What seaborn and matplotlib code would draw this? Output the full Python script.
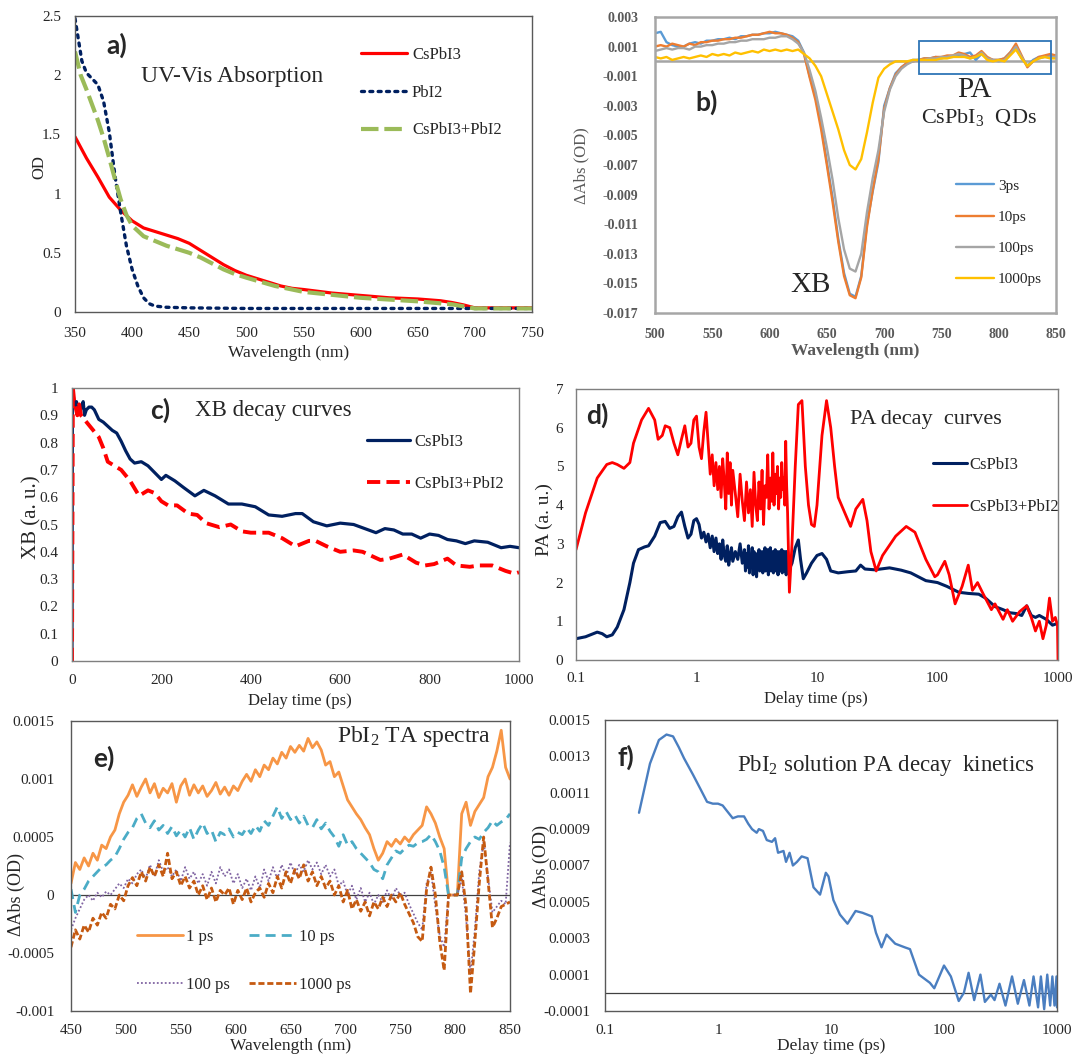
import numpy as np
import matplotlib
matplotlib.use("Agg")
import matplotlib.pyplot as plt
import seaborn as sns
from matplotlib.patches import Rectangle

# ---------------- a) UV-Vis absorption ----------------
abs_wl_cspbi3 = [350, 360, 370, 380, 390, 400, 410, 420, 430, 440, 450, 460, 470, 480, 490,
                 500, 510, 520, 530, 540, 550, 575, 600, 625, 650, 670, 680, 690, 700, 750]
abs_od_cspbi3 = [1.48, 1.30, 1.14, 0.97, 0.86, 0.77, 0.71, 0.68, 0.65, 0.62, 0.58, 0.52, 0.46, 0.40, 0.35,
                 0.31, 0.28, 0.25, 0.22, 0.20, 0.19, 0.16, 0.14, 0.12, 0.11, 0.095, 0.08, 0.06, 0.035, 0.035]
abs_wl_pbi2 = [350, 353, 356, 360, 365, 370, 375, 380, 385, 390, 395, 400, 405, 410, 415, 420,
               430, 450, 500, 550, 600, 650, 700, 750]
abs_od_pbi2 = [2.48, 2.30, 2.12, 2.02, 1.97, 1.92, 1.78, 1.52, 1.15, 0.84, 0.56, 0.36, 0.22, 0.12, 0.07, 0.05,
               0.04, 0.035, 0.03, 0.03, 0.03, 0.03, 0.03, 0.03]
abs_wl_mix = [350, 355, 360, 365, 370, 375, 380, 385, 390, 395, 400, 410, 420, 430, 440, 450, 460,
              470, 480, 490, 500, 525, 550, 600, 650, 680, 700, 750]
abs_od_mix = [2.20, 2.00, 1.88, 1.75, 1.62, 1.47, 1.30, 1.12, 0.95, 0.82, 0.73, 0.64, 0.60, 0.56, 0.53, 0.50, 0.46,
              0.41, 0.36, 0.32, 0.29, 0.22, 0.17, 0.12, 0.09, 0.065, 0.03, 0.03]
abs_labels = ["CsPbI3", "PbI2", "CsPbI3+PbI2"]

# ---------------- b) CsPbI3 QD TA spectra (units of 1e-3 OD) ----------------
ta_wl = list(range(500, 851, 5))
ta_3ps = [1.9, 2.0, 1.3, 1.1, 1.0, 1.0, 1.2, 1.3, 1.2, 1.4, 1.4, 1.5, 1.5, 1.6, 1.5, 1.7, 1.7, 1.8, 1.8, 1.9,
          1.9, 2.0, 1.9, 1.8, 1.7, 1.4, 0.6, -1.0, -2.2, -4.3, -6.8, -9.2, -12.0, -14.3, -15.7, -15.9,
          -14.5, -11.0, -8.8, -6.8, -3.0, -1.8, -0.8, -0.4, -0.1, 0.1, 0.1, 0.2, 0.2, 0.3, 0.2, 0.3, 0.3,
          0.4, 0.5, 0.6, 0.1, 0.5, 0.2, 0.1, 0.1, 0.2, 0.6, 0.9, 0.2, -0.3, 0.1, 0.3, 0.3, 0.4, 0.4]
ta_10ps = [1.0, 1.1, 1.0, 1.2, 1.1, 1.0, 1.2, 1.1, 1.3, 1.3, 1.4, 1.4, 1.5, 1.5, 1.6, 1.6, 1.7, 1.8, 1.8, 1.9,
           2.0, 1.9, 1.9, 1.8, 1.6, 1.3, 0.5, -1.1, -2.6, -4.6, -7.0, -9.5, -12.2, -14.5, -15.8, -16.0,
           -14.6, -11.2, -8.7, -6.6, -3.2, -1.8, -0.9, -0.4, -0.1, 0.0, 0.1, 0.2, 0.2, 0.3, 0.3, 0.4, 0.4,
           0.6, 0.5, 0.3, 0.4, 0.7, 0.3, 0.1, 0.1, 0.2, 0.6, 1.2, 0.4, -0.4, 0.0, 0.3, 0.4, 0.5, 0.4]
ta_100ps = [0.7, 0.8, 0.9, 0.8, 0.9, 0.9, 0.8, 1.0, 1.0, 1.1, 1.1, 1.2, 1.2, 1.3, 1.3, 1.4, 1.4, 1.5, 1.5, 1.5,
            1.6, 1.6, 1.7, 1.7, 1.5, 1.2, 0.6, -0.6, -2.0, -3.8, -5.8, -8.0, -10.6, -12.7, -14.0, -14.2,
            -13.0, -10.2, -7.9, -6.0, -3.4, -1.9, -1.0, -0.5, -0.2, 0.0, 0.1, 0.1, 0.2, 0.2, 0.3, 0.3, 0.4,
            0.5, 0.4, 0.2, 0.3, 0.6, 0.2, 0.1, 0.0, 0.1, 0.5, 1.0, 0.3, -0.3, 0.0, 0.2, 0.3, 0.3, 0.3]
ta_1000ps = [0.3, 0.2, 0.3, 0.1, 0.2, 0.3, 0.2, 0.3, 0.4, 0.3, 0.5, 0.4, 0.5, 0.4, 0.6, 0.5, 0.6, 0.7, 0.6, 0.8,
             0.7, 0.8, 0.7, 0.8, 0.7, 0.8, 0.5, 0.2, -0.3, -1.0, -2.2, -3.4, -4.6, -6.0, -7.0, -7.3,
             -6.6, -4.8, -2.8, -1.1, -0.5, -0.2, 0.0, 0.0, 0.0, 0.1, 0.1, 0.1, 0.1, 0.1, 0.2, 0.2, 0.3,
             0.3, 0.3, 0.2, 0.3, 0.5, 0.1, 0.0, 0.1, 0.0, 0.4, 0.8, 0.2, -0.3, 0.0, 0.2, 0.3, 0.2, 0.2]
ta_labels = ["3ps", "10ps", "100ps", "1000ps"]

# ---------------- c) XB decay ----------------
xb_t_cs = [0, 1, 3, 6, 10, 14, 18, 22, 25, 28, 32, 38, 44, 50, 60, 70, 80, 90, 100, 110, 120, 130, 140, 155,
           170, 185, 200, 210, 230, 250, 275, 295, 320, 350, 380, 410, 440, 470, 500, 515, 540, 570, 600,
           630, 680, 700, 720, 740, 760, 780, 800, 820, 840, 860, 880, 900, 930, 960, 980, 1000]
xb_cs = [0, 0.99, 0.97, 0.93, 0.95, 0.91, 0.92, 0.93, 0.95, 0.90, 0.92, 0.93, 0.93, 0.92, 0.885, 0.875, 0.86,
         0.845, 0.835, 0.805, 0.77, 0.74, 0.725, 0.73, 0.715, 0.69, 0.665, 0.68, 0.66, 0.635, 0.605, 0.625,
         0.605, 0.575, 0.575, 0.565, 0.535, 0.53, 0.54, 0.54, 0.51, 0.495, 0.505, 0.50, 0.47, 0.485, 0.48,
         0.465, 0.465, 0.45, 0.465, 0.46, 0.445, 0.44, 0.43, 0.44, 0.435, 0.415, 0.42, 0.415]
xb_t_mix = [0, 2, 5, 8, 12, 16, 20, 25, 30, 40, 50, 60, 70, 80, 90, 100, 110, 130, 150, 170, 185, 200, 215,
            235, 260, 280, 300, 330, 355, 380, 400, 440, 470, 500, 530, 545, 570, 600, 630, 650, 690, 710,
            740, 770, 790, 810, 840, 860, 890, 910, 940, 970, 990, 1000]
xb_mix = [0, 1.0, 0.95, 0.93, 0.90, 0.94, 0.90, 0.89, 0.88, 0.86, 0.84, 0.82, 0.78, 0.73, 0.72, 0.71, 0.70,
          0.66, 0.605, 0.625, 0.615, 0.585, 0.57, 0.57, 0.54, 0.535, 0.505, 0.49, 0.50, 0.475, 0.47, 0.47,
          0.45, 0.42, 0.44, 0.44, 0.42, 0.40, 0.405, 0.40, 0.37, 0.375, 0.39, 0.36, 0.35, 0.355, 0.375, 0.35,
          0.345, 0.35, 0.35, 0.33, 0.32, 0.325]
decay_labels = ["CsPbI3", "CsPbI3+PbI2"]

# ---------------- d) PA decay ----------------
pa_t_cs = [0.1, 0.12, 0.15, 0.165, 0.18, 0.2, 0.22, 0.25, 0.28, 0.3, 0.33, 0.37, 0.4, 0.45, 0.5, 0.55, 0.6,
           0.65, 0.7, 0.75, 0.8, 0.85, 0.9, 0.95, 1.0, 1.05, 1.1, 1.15, 1.2, 1.25, 1.3, 1.35, 1.4, 1.45, 1.5,
           1.55, 1.6, 1.65, 1.7, 1.75, 1.8, 1.85, 1.9, 1.95, 2.0, 2.1, 2.2, 2.3, 2.4,
           2.5, 2.55, 2.6, 2.65, 2.7, 2.75, 2.8, 2.85, 2.9, 2.95, 3.0, 3.05, 3.1, 3.15, 3.2, 3.25, 3.3,
           3.35, 3.4, 3.45, 3.5, 3.55, 3.6, 3.65, 3.7, 3.75, 3.8, 3.85, 3.9, 3.95, 4.0, 4.05, 4.1, 4.15,
           4.2, 4.25, 4.3, 4.35, 4.4, 4.45, 4.5, 4.55, 4.6, 4.65, 4.7, 4.75, 4.8, 4.85, 4.9, 4.95, 5.0,
           5.05, 5.1, 5.15, 5.2, 5.25, 5.3, 5.35, 5.4, 5.45, 5.5, 5.55, 5.6, 5.65, 5.7,
           5.9, 6.2, 6.6, 7.0, 7.3, 7.7, 8.2, 9.0, 10, 11, 12, 13, 15, 18, 21, 23, 25, 30, 40, 50, 60, 80,
           100, 120, 150, 180, 220, 250, 300, 350, 400, 450, 500, 550, 600, 650, 700, 800, 900, 1000]
pa_cs = [0.55, 0.6, 0.72, 0.68, 0.6, 0.65, 0.85, 1.3, 2.0, 2.5, 2.85, 2.92, 2.95, 3.2, 3.55, 3.58, 3.4,
         3.45, 3.7, 3.82, 3.45, 3.15, 3.25, 3.6, 3.65, 3.5, 3.15, 3.3, 3.05, 3.25, 2.9, 3.2, 2.8, 3.15, 2.75,
         3.0, 2.6, 3.1, 2.7, 2.55, 2.95, 2.45, 2.7, 2.9, 2.55, 2.8, 2.6, 3.0, 2.5,
         2.85, 2.3, 2.75, 2.4, 2.95, 2.25, 2.7, 2.45, 2.9, 2.2, 2.8, 2.5, 2.75, 2.15, 2.65, 2.45, 2.85,
         2.3, 2.7, 2.5, 2.8, 2.25, 2.75, 2.45, 2.9, 2.3, 2.65, 2.4, 2.85, 2.2, 2.75, 2.5, 2.9, 2.3,
         2.7, 2.45, 2.8, 2.25, 2.75, 2.4, 2.85, 2.3, 2.7, 2.5, 2.8, 2.2, 2.75, 2.45, 2.8, 2.35, 2.7,
         2.3, 2.85, 2.25, 2.75, 2.4, 2.8, 2.3, 2.7, 2.45, 2.8, 2.2, 2.75, 2.3, 2.8,
         2.35, 2.5, 2.9, 3.1, 2.6, 2.1, 2.25, 2.5, 2.7, 2.75, 2.6, 2.3, 2.25, 2.28, 2.3, 2.45, 2.35, 2.33,
         2.38, 2.32, 2.25, 2.05, 2.0, 1.9, 1.75, 1.72, 1.7, 1.6, 1.38, 1.3, 1.22, 1.2, 1.15, 1.4, 1.15, 1.1,
         1.15, 1.05, 0.9, 0.95]
pa_t_mix = [0.1, 0.12, 0.15, 0.18, 0.2, 0.22, 0.25, 0.28, 0.3, 0.35, 0.4, 0.45, 0.48, 0.52, 0.55, 0.6, 0.65,
            0.7, 0.75, 0.8, 0.85, 0.9, 0.95, 1.0, 1.05, 1.1, 1.15, 1.2, 1.25, 1.3, 1.35, 1.4, 1.45, 1.5, 1.55,
            1.6, 1.65, 1.7, 1.75, 1.8, 1.85, 1.9, 1.95, 2.0, 2.1, 2.2, 2.3, 2.4, 2.5, 2.6, 2.7, 2.8, 2.9,
            3.0, 3.1, 3.2, 3.3, 3.4, 3.5, 3.6, 3.7, 3.8, 3.9, 4.0, 4.1, 4.2, 4.3, 4.4, 4.5, 4.6, 4.7, 4.8,
            4.9, 5.0, 5.1, 5.2, 5.3, 5.4, 5.5, 5.6, 5.7, 5.9, 6.2, 6.6, 7.0, 7.5, 8.0, 8.5, 9.0, 9.5, 10, 11,
            12, 13, 14, 15, 17, 19, 21, 24, 26, 28, 31, 35, 45, 55, 65, 80, 95, 100, 115, 125, 140, 160, 180,
            195, 215, 240, 280, 300, 350, 380, 420, 480, 550, 600, 650, 700, 750, 800, 850, 900, 950, 990, 1000]
pa_mix = [2.85, 3.8, 4.7, 5.05, 5.1, 5.05, 4.95, 5.1, 5.6, 6.2, 6.5, 6.2, 5.7, 5.8, 6.05, 6.0, 5.6, 5.3, 5.7,
          6.05, 5.5, 5.6, 6.2, 6.3, 5.5, 5.2, 5.9, 6.4, 5.6, 4.8, 5.3, 4.5, 5.1, 4.4, 5.0, 4.2, 5.2, 4.6, 3.9,
          5.35, 4.3, 5.1, 4.0, 4.9, 4.3, 3.7, 4.8, 4.1, 3.6, 4.6, 3.8, 4.4, 3.45, 4.85, 4.0, 3.6, 4.6, 3.9,
          4.9, 3.5, 4.5, 4.2, 5.3, 3.9, 4.7, 4.1, 5.35, 4.0, 4.8, 4.3, 5.0, 3.9, 4.7, 4.2, 5.1, 4.4, 4.7, 4.0,
          5.65, 4.5, 3.8, 1.75, 3.0, 5.0, 6.6, 6.7, 5.0, 4.0, 3.5, 3.45, 4.0, 5.8, 6.7, 6.0, 5.0, 4.2, 3.8,
          3.45, 3.9, 4.15, 3.6, 2.8, 2.3, 2.7, 3.2, 3.45, 3.3, 2.6, 2.15, 2.2, 2.55, 2.2, 1.45, 1.9, 2.45,
          1.8, 2.0, 1.7, 1.3, 1.45, 1.05, 1.3, 1.0, 1.25, 1.4, 1.1, 0.75, 1.0, 0.55, 0.9, 1.6, 1.0, 1.1, 0.9,
          0.0]

# ---------------- e) PbI2 TA spectra (units of 1e-4 OD) ----------------
pbi2_wl = list(range(450, 851, 4))
pbi2_1ps = [1.0, 2.8, 2.2, 3.2, 2.5, 3.6, 3.0, 4.3, 4.0, 5.0,
            5.6, 7.0, 8.0, 8.6, 9.5, 8.5, 9.3, 10.0, 8.8, 9.6,
            8.4, 9.2, 8.8, 9.6, 8.0, 9.4, 10.0, 8.6, 9.5, 8.8,
            9.4, 8.5, 9.0, 9.7, 8.7, 9.3, 8.6, 9.4, 9.0, 9.8,
            10.4, 9.8, 10.8, 10.2, 11.2, 10.8, 11.8, 11.3, 12.3, 11.8,
            12.8, 12.3, 12.9, 12.4, 13.5, 12.7, 13.2, 12.5, 11.2, 11.5,
            10.2, 10.6, 9.4, 8.2, 7.6, 7.0, 6.5, 5.8, 5.2, 4.0,
            3.0, 3.6, 4.6, 4.2, 4.8, 4.4, 5.0, 4.6, 5.2, 5.6,
            6.0, 7.6, 7.0, 6.2, 5.0, 4.0, 0.0, 0.0, 0.0, 7.0,
            8.0, 6.0, 7.2, 7.8, 8.4, 10.2, 11.0, 12.4, 14.2, 11.0,
            10.0]
pbi2_10ps = [0.5, -1.5, 0.0, 0.5, 1.2, 1.6, 2.0, 2.4, 2.6, 3.0,
             3.3, 4.0, 4.8, 5.4, 5.8, 6.6, 7.0, 6.2, 5.8, 6.4,
             5.6, 6.0, 5.3, 5.9, 5.1, 5.6, 5.0, 5.8, 4.8, 5.6,
             6.2, 5.3, 5.6, 4.6, 5.4, 5.2, 5.7, 5.0, 5.4, 5.2,
             5.8, 5.3, 6.0, 5.5, 6.4, 6.0, 6.8, 7.6, 6.6, 7.2,
             6.5, 6.9, 6.2, 6.8, 6.0, 5.8, 6.5, 5.7, 6.2, 5.5,
             5.0, 4.2, 5.2, 4.3, 4.6, 4.0, 3.6, 3.2, 2.8, 2.2,
             2.0, 1.4, 2.6, 3.2, 3.8, 3.6, 4.0, 4.3, 4.2, 4.5,
             4.6, 4.8, 5.2, 4.6, 3.8, 2.4, 0.0, 0.0, 0.0, 3.2,
             4.0, 4.6, 5.0, 4.8, 5.4, 5.8, 6.4, 6.0, 6.3, 6.5,
             7.0]
pbi2_100ps = [-3.0, -2.0, -1.2, -0.4, 0.0, -0.5, 0.2, -0.2, 0.3, 0.0,
              0.5, 1.0, 0.6, 1.4, 1.0, 1.8, 2.2, 1.4, 2.6, 1.6,
              3.0, 2.0, 2.4, 1.6, 2.2, 1.2, 2.4, 1.4, 2.0, 1.0,
              1.8, 0.8, 2.0, 1.0, 2.4, 1.6, 2.2, 1.0, 1.8, 0.6,
              1.4, 0.4, 1.6, 0.6, 2.2, 1.2, 2.4, 1.4, 2.6, 1.6,
              2.8, 1.8, 2.6, 2.0, 3.0, 2.2, 2.8, 1.8, 2.6, 1.6,
              2.2, 0.8, 1.2, 0.0, 0.8, -0.4, 0.6, -0.6, 0.2, -0.8,
              0.0, -0.6, 0.4, -0.4, 0.6, 0.0, 0.2, -0.8, -1.6, -2.4,
              -3.0, 1.0, 2.0, -1.0, -3.5, -4.5, 0.0, 0.0, 0.0, 1.5,
              -2.0, -6.8, -3.0, 2.0, 4.6, 1.5, -1.5, -1.0, -0.5, -0.8,
              4.5]
pbi2_1000ps = [-4.5, -3.0, -3.8, -2.6, -3.2, -2.0, -2.6, -1.5, -2.0, -0.8,
               -1.2, 0.0, -0.5, 0.8, 1.5, 0.8, 2.0, 1.2, 2.4, 1.6,
               2.6, 1.6, 3.6, 1.4, 2.0, 0.8, 1.6, 0.6, 1.2, 0.0,
               0.8, -0.4, 0.6, -0.6, 0.4, 0.0, 0.6, -0.8, 0.4, -0.4,
               0.6, -0.6, 0.2, 0.6, -0.2, 1.0, 0.2, 1.6, 0.6, 2.0,
               1.0, 2.2, 1.4, 2.6, 1.2, 2.0, 0.8, 1.6, 0.6, 1.2,
               0.0, 0.8, -0.6, 0.4, -1.2, -0.4, -1.4, -0.6, -1.8, -0.6,
               -1.2, -0.2, -1.0, 0.0, -0.6, 0.2, -0.8, -1.6, -2.4, -3.6,
               -4.0, 0.5, 2.4, 0.0, -4.0, -6.5, 0.0, 0.0, 0.0, 2.0,
               -1.0, -8.5, -4.0, 1.0, 5.0, 1.2, -2.8, -2.0, -1.0, -0.8,
               -0.6]
pbi2_labels = ["1 ps", "10 ps", "100 ps", "1000 ps"]

# ---------------- f) PbI2 solution PA kinetics (units of 1e-4 OD) ----------------
kin_t = [0.2, 0.25, 0.3, 0.35, 0.4, 0.45, 0.5, 0.6, 0.7, 0.8, 0.9, 1.0, 1.1, 1.2, 1.35, 1.5, 1.7, 1.85, 2.0,
         2.2, 2.3, 2.5, 2.7, 3.0, 3.2, 3.4, 3.8, 4.0, 4.3, 4.6, 5.0, 5.5, 6.2, 7.0, 8.0, 9.0, 9.5, 10.5, 12,
         14, 16.5, 19, 23, 25, 28, 31, 37, 45, 50, 60, 75, 82, 100, 115, 135, 150, 165, 185, 210, 230, 260,
         280, 310, 350, 400, 450, 510, 570, 620, 680, 720, 770, 820, 870, 910, 950, 990, 1000]
kin_pa = [9.9, 12.6, 13.9, 14.2, 14.1, 13.5, 12.9, 12.0, 11.2, 10.5, 10.4, 10.4, 10.3, 10.0, 9.6, 9.7, 9.7,
          9.3, 9.0, 8.8, 9.0, 8.9, 8.4, 8.3, 8.5, 7.7, 7.8, 7.2, 7.7, 7.0, 7.2, 7.5, 7.4, 5.8, 5.4, 6.6, 6.4,
          5.1, 4.3, 3.8, 4.5, 4.4, 4.2, 3.3, 2.5, 3.2, 2.7, 2.5, 2.4, 1.0, 0.55, 0.25, 1.5, 0.9, -0.45, 0.0,
          1.1, -0.4, 1.0, -0.5, -0.1, -0.4, 0.5, -0.7, 0.9, -0.6, 0.7, -0.7, 0.9, -0.8, 0.9, -0.9, 1.0,
          -0.7, 0.9, -0.7, 0.9, -0.8]

# ---------------- tick values ----------------
ticks_a_x = [350, 400, 450, 500, 550, 600, 650, 700, 750]
ticks_a_y = [0, 0.5, 1, 1.5, 2, 2.5]
ticks_b_x = [500, 550, 600, 650, 700, 750, 800, 850]
ticks_b_y = [0.003, 0.001, -0.001, -0.003, -0.005, -0.007, -0.009, -0.011, -0.013, -0.015, -0.017]
ticks_c_x = [0, 200, 400, 600, 800, 1000]
ticks_c_y = [0, 0.1, 0.2, 0.3, 0.4, 0.5, 0.6, 0.7, 0.8, 0.9, 1]
ticks_log = [0.1, 1, 10, 100, 1000]
ticks_d_y = [0, 1, 2, 3, 4, 5, 6, 7]
ticks_e_x = [450, 500, 550, 600, 650, 700, 750, 800, 850]
ticks_e_y = [-0.001, -0.0005, 0, 0.0005, 0.001, 0.0015]
ticks_f_y = [-0.0001, 0.0001, 0.0003, 0.0005, 0.0007, 0.0009, 0.0011, 0.0013, 0.0015]

# ---------------- style ----------------
sns.set_style("white")
plt.rcParams["font.family"] = ["Liberation Serif", "DejaVu Serif"]
plt.rcParams["mathtext.fontset"] = "custom"
plt.rcParams["mathtext.rm"] = "Liberation Serif"
plt.rcParams["mathtext.it"] = "Liberation Serif:italic"
plt.rcParams["axes.unicode_minus"] = False

LETTER = dict(family=["Lato", "DejaVu Sans"], fontweight="bold", fontsize=19)


def draw(ax, x, y, color, lw, ls="-", label=None, scale=1.0, **kw):
    sns.lineplot(x=np.asarray(x, float), y=np.asarray(y, float) * scale, ax=ax, color=color,
                 linewidth=lw, linestyle=ls, label=label, estimator=None, sort=False,
                 legend=False, **kw)


def fmt_num(v):
    s = f"{v:.4f}".rstrip("0").rstrip(".")
    return "0" if s in ("-0", "") else s


def frame(ax, xt, yt, xlabels, ylabels, color="#7F7F7F", lw=1.0, pad_x=9, pad_y=10, size=11):
    ax.set_xticks(xt)
    ax.set_xticklabels(xlabels)
    ax.set_yticks(yt)
    ax.set_yticklabels(ylabels)
    ax.minorticks_off()
    ax.tick_params(axis="x", length=0, pad=pad_x, labelsize=size)
    ax.tick_params(axis="y", length=0, pad=pad_y, labelsize=size)
    for sp in ax.spines.values():
        sp.set_visible(True)
        sp.set_color(color)
        sp.set_linewidth(lw)
    ax.grid(False)


fig = plt.figure(figsize=(10.72, 10.57), dpi=100)
W, H = 1072.0, 1057.0


def axes_px(x0, y0, x1, y1):
    return fig.add_axes([x0 / W, 1 - y1 / H, (x1 - x0) / W, (y1 - y0) / H])


# ---- a ----
ax = axes_px(75, 16, 532, 312)
draw(ax, abs_wl_cspbi3, abs_od_cspbi3, "#FF0000", 2.3, "-", abs_labels[0])
draw(ax, abs_wl_pbi2, abs_od_pbi2, "#002060", 2.4, (0, (0.9, 1.6)), abs_labels[1],
     dash_capstyle="round")
draw(ax, abs_wl_mix, abs_od_mix, "#9BBB59", 3.0, (0, (4.2, 1.4)), abs_labels[2])
ax.set_xlim(350, 750)
ax.set_ylim(0, 2.5)
frame(ax, ticks_a_x, ticks_a_y, [str(v) for v in ticks_a_x], [fmt_num(v) for v in ticks_a_y],
      color="#595959", pad_x=11, pad_y=10)
ax.set_xlabel("Wavelength (nm)", fontsize=12.5)
ax.xaxis.set_label_coords(0.468, -0.113)
ax.set_ylabel("OD", fontsize=12)
ax.yaxis.set_label_coords(-0.061, 0.49)
ax.legend(loc="upper left", bbox_to_anchor=(0.626, 0.895), frameon=False, fontsize=12,
          handlelength=2.75, handletextpad=0.3, labelspacing=1.3, borderpad=0, borderaxespad=0)
ax.text(0.069, 0.902, "a)", transform=ax.transAxes, va="center", ha="left", **LETTER)
ax.text(0.144, 0.794, "UV-Vis Absorption", transform=ax.transAxes, va="center", ha="left", fontsize=17)

# ---- b ----
ax = axes_px(655, 17, 1056, 313)
ax.axhline(0, color="#A5A5A5", lw=1.8, zorder=1)
for vals, col, lab in zip([ta_3ps, ta_10ps, ta_100ps, ta_1000ps],
                          ["#5B9BD5", "#ED7D31", "#A5A5A5", "#FFC000"], ta_labels):
    draw(ax, ta_wl, vals, col, 1.7, "-", lab, scale=1e-3)
ax.add_patch(Rectangle((730, -0.00085), 116, 0.00225, fill=False, edgecolor="#2E75B6", lw=1.3, zorder=5))
ax.set_xlim(500, 850)
ax.set_ylim(-0.017, 0.003)
frame(ax, ticks_b_x, ticks_b_y, [str(v) for v in ticks_b_x], [f"{v:.3f}" for v in ticks_b_y],
      color="#A6A6A6", lw=1.8, pad_x=11, pad_y=12, size=10)
for lab in ax.get_xticklabels() + ax.get_yticklabels():
    lab.set_color("#595959")
    lab.set_fontweight("bold")
ax.set_xlabel("Wavelength (nm)", fontsize=12.5, color="#595959", fontweight="bold")
ax.xaxis.set_label_coords(0.5, -0.101)
ax.set_ylabel("ΔAbs (OD)", fontsize=12, color="#595959")
ax.yaxis.set_label_coords(-0.164, 0.497)
ax.legend(loc="upper left", bbox_to_anchor=(0.75, 0.453), frameon=False, fontsize=11,
          handlelength=2.5, handletextpad=0.26, labelspacing=1.15, borderpad=0, borderaxespad=0)
ax.text(0.10, 0.713, "b)", transform=ax.transAxes, va="center", ha="left", **LETTER)
ax.text(0.797, 0.753, "PA", transform=ax.transAxes, va="center", ha="center", fontsize=21)
ax.text(0.809, 0.659, r"CsPbI$_{\mathrm{3}}$  QDs", transform=ax.transAxes, va="center", ha="center",
        fontsize=16, color="#262626")
ax.text(0.389, 0.095, "XB", transform=ax.transAxes, va="center", ha="center", fontsize=21)

# ---- c ----
ax = axes_px(72, 388, 519, 661)
draw(ax, xb_t_cs, xb_cs, "#002060", 2.3, "-", decay_labels[0])
draw(ax, xb_t_mix, xb_mix, "#FF0000", 2.8, (0, (3.4, 1.6)), decay_labels[1])
ax.set_xlim(0, 1000)
ax.set_ylim(0, 1)
frame(ax, ticks_c_x, ticks_c_y, [str(v) for v in ticks_c_x], [fmt_num(v) for v in ticks_c_y],
      pad_x=9, pad_y=10)
ax.set_xlabel("Delay time (ps)", fontsize=12)
ax.xaxis.set_label_coords(0.51, -0.117)
ax.set_ylabel("XB (a. u.)", fontsize=15)
ax.yaxis.set_label_coords(-0.069, 0.527)
ax.legend(loc="upper left", bbox_to_anchor=(0.66, 0.832), frameon=False, fontsize=12,
          handlelength=2.55, handletextpad=0.28, labelspacing=1.55, borderpad=0, borderaxespad=0)
ax.text(0.175, 0.919, "c)", transform=ax.transAxes, va="center", ha="left", **LETTER)
ax.text(0.276, 0.919, "XB decay curves", transform=ax.transAxes, va="center", ha="left", fontsize=16.5)

# ---- d ----
ax = axes_px(576, 389, 1058, 660)
draw(ax, pa_t_cs, pa_cs, "#002060", 2.2, "-", decay_labels[0])
draw(ax, pa_t_mix, pa_mix, "#FF0000", 2.0, "-", decay_labels[1])
ax.set_xscale("log")
ax.set_xlim(0.1, 1000)
ax.set_ylim(0, 7)
frame(ax, ticks_log, ticks_d_y, [fmt_num(v) for v in ticks_log], [str(v) for v in ticks_d_y],
      pad_x=9, pad_y=9)
ax.set_xlabel("Delay time (ps)", fontsize=12)
ax.xaxis.set_label_coords(0.497, -0.114)
ax.set_ylabel("PA (a. u.)", fontsize=14)
ax.yaxis.set_label_coords(-0.048, 0.52)
ax.legend(loc="upper left", bbox_to_anchor=(0.74, 0.748), frameon=False, fontsize=12,
          handlelength=2.05, handletextpad=0.17, labelspacing=1.55, borderpad=0, borderaxespad=0)
ax.text(0.022, 0.904, "d)", transform=ax.transAxes, va="center", ha="left", **LETTER)
ax.text(0.5695, 0.889, "PA decay  curves", transform=ax.transAxes, va="center", ha="left", fontsize=16)

# ---- e ----
ax = axes_px(71, 721, 510, 1011)
ax.axhline(0, color="#404040", lw=0.9, zorder=1)
draw(ax, pbi2_wl, pbi2_1ps, "#F79646", 2.0, "-", pbi2_labels[0], scale=1e-4)
draw(ax, pbi2_wl, pbi2_10ps, "#4BACC6", 2.0, (0, (3.6, 2.2)), pbi2_labels[1], scale=1e-4)
draw(ax, pbi2_wl, pbi2_100ps, "#8064A2", 1.3, (0, (1, 1.2)), pbi2_labels[2], scale=1e-4)
draw(ax, pbi2_wl, pbi2_1000ps, "#C55A11", 2.0, (0, (2.2, 1.0)), pbi2_labels[3], scale=1e-4)
ax.set_xlim(450, 850)
ax.set_ylim(-0.001, 0.0015)
frame(ax, ticks_e_x, ticks_e_y, [str(v) for v in ticks_e_x], [fmt_num(v) for v in ticks_e_y],
      color="#595959", pad_x=9, pad_y=12)
ax.set_xlabel("Wavelength (nm)", fontsize=12.5)
ax.xaxis.set_label_coords(0.5, -0.093)
ax.set_ylabel("ΔAbs (OD)", fontsize=13)
ax.yaxis.set_label_coords(-0.104, 0.40)
h, l = ax.get_legend_handles_labels()
order = [0, 2, 1, 3]
ax.legend([h[i] for i in order], [l[i] for i in order], ncol=2, loc="upper left",
          bbox_to_anchor=(0.15, 0.283), frameon=False, fontsize=12, handlelength=2.77,
          handletextpad=0.2, labelspacing=1.9, columnspacing=1.15, borderpad=0, borderaxespad=0)
ax.text(0.05, 0.873, "e)", transform=ax.transAxes, va="center", ha="left", **LETTER)
ax.text(0.605, 0.945, r"PbI$_{\mathrm{2}}$ TA spectra", transform=ax.transAxes, va="center", ha="left",
        fontsize=17)

# ---- f ----
ax = axes_px(605, 720, 1057, 1011)
ax.axhline(0, color="#404040", lw=0.9, zorder=1)
draw(ax, kin_t, kin_pa, "#4A7EC0", 1.7, "-", None, scale=1e-4)
ax.set_xscale("log")
ax.set_xlim(0.1, 1000)
ax.set_ylim(-0.0001, 0.0015)
frame(ax, ticks_log, ticks_f_y, [fmt_num(v) for v in ticks_log], [fmt_num(v) for v in ticks_f_y],
      color="#595959", pad_x=9, pad_y=10.5)
ax.set_xlabel("Delay time (ps)", fontsize=12.5)
ax.xaxis.set_label_coords(0.5, -0.093)
ax.set_ylabel("ΔAbs (OD)", fontsize=13)
ax.yaxis.set_label_coords(-0.122, 0.495)
ax.text(0.027, 0.873, "f)", transform=ax.transAxes, va="center", ha="left", **LETTER)
ax.text(0.292, 0.845, r"PbI$_{\mathrm{2}}$ solution PA decay  kinetics", transform=ax.transAxes,
        va="center", ha="left", fontsize=16.5)

fig.savefig("out.png", dpi=100, facecolor="white")
